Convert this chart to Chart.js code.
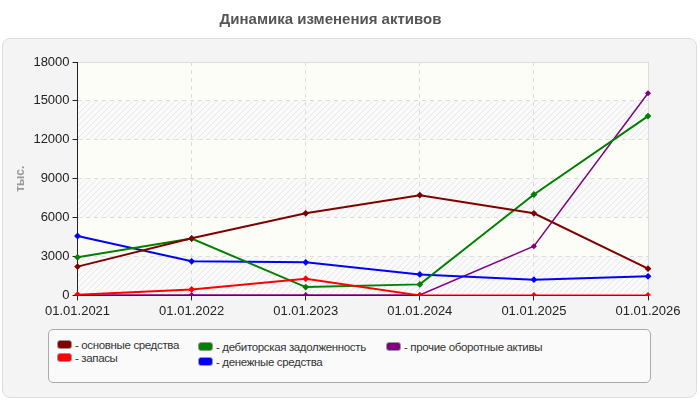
<!DOCTYPE html>
<html>
<head>
<meta charset="utf-8">
<script src="https://cdn.jsdelivr.net/npm/chart.js@4"></script>
<style>
  body { margin: 0; background: #fff; font-family: "Liberation Sans", Arial, sans-serif; }
  #wrap { position: relative; width: 700px; height: 400px; }
  #panel { position: absolute; left: 2px; top: 38px; width: 693px; height: 358px;
           background: #f4f4f4; border: 1px solid #dedede; border-radius: 8px; }
  #graf { position: absolute; left: 0; top: 0; }
  #legenda { position: absolute; left: 48px; top: 329px; width: 601px; height: 52px;
             background: #fafafa; border: 1px solid #aaa; border-radius: 5px; }
  .item { position: absolute; font-size: 11.5px; letter-spacing: -0.35px; color: #333; white-space: nowrap; line-height: 14px; }
  .item span.sw { display: inline-block; width: 13px; height: 7px; border: 1px solid #999;
                  border-radius: 3px; margin-right: 3px; vertical-align: 0px; }
</style>
</head>
<body>
<div id="wrap">
  <div id="panel"></div>
  <canvas id="graf" width="700" height="400"></canvas>
  <div id="legenda"></div>
</div>
<script>
const datas = ['01.01.2021', '01.01.2022', '01.01.2023', '01.01.2024', '01.01.2025', '01.01.2026'];

const osnovnye = [2220, 4400, 6330, 7730, 6330, 2060];
const zapasy = [50, 460, 1290, 0, 0, 0];
const debitorka = [2940, 4380, 640, 850, 7780, 13830];
const denezhnye = [4580, 2630, 2550, 1620, 1210, 1470];
const prochie = [30, 30, 30, 30, 3790, 15590];

const series = [
  { nome: 'основные средства', dados: osnovnye, cor: '#800000', w: 2 },
  { nome: 'запасы', dados: zapasy, cor: '#ff0000', w: 2 },
  { nome: 'дебиторская задолженность', dados: debitorka, cor: '#008000', w: 2 },
  { nome: 'денежные средства', dados: denezhnye, cor: '#0000ff', w: 2 },
  { nome: 'прочие оборотные активы', dados: prochie, cor: '#800080', w: 1.5 }
];

// posicoes da legenda (como no original)
const legPos = [[8, 8], [8, 21], [149, 10], [149, 25], [337, 10]];
const leg = document.getElementById('legenda');
series.forEach((s, i) => {
  const d = document.createElement('div');
  d.className = 'item';
  d.style.left = legPos[i][0] + 'px';
  d.style.top = legPos[i][1] + 'px';
  d.innerHTML = '<span class="sw" style="background:' + s.cor + '"></span>- ' + s.nome;
  leg.appendChild(d);
});

// fundo hachurado da area do grafico
const fundo = {
  id: 'fundo',
  beforeDraw(chart) {
    const { ctx, chartArea: a, scales: { y } } = chart;
    ctx.save();
    ctx.fillStyle = '#fdfdf8';
    ctx.fillRect(a.left, a.top, a.right - a.left, a.bottom - a.top);
    const p = document.createElement('canvas');
    p.width = 6; p.height = 6;
    const pc = p.getContext('2d');
    pc.fillStyle = '#fafafa';
    pc.fillRect(0, 0, 6, 6);
    pc.strokeStyle = '#e8e8e8';
    pc.lineWidth = 1;
    pc.beginPath(); pc.moveTo(0, 6); pc.lineTo(6, 0); pc.stroke();
    ctx.fillStyle = ctx.createPattern(p, 'repeat');
    for (let v = 0; v < 18000; v += 6000) {
      const y0 = y.getPixelForValue(v + 3000), y1 = y.getPixelForValue(v);
      ctx.fillRect(a.left, y0, a.right - a.left, y1 - y0);
    }
    ctx.strokeStyle = '#dddddd';
    ctx.lineWidth = 1;
    ctx.beginPath();
    ctx.moveTo(a.left, a.top + 0.5); ctx.lineTo(a.right + 0.5, a.top + 0.5); ctx.lineTo(a.right + 0.5, a.bottom);
    ctx.stroke();
    ctx.restore();
  }
};

const fonte = { family: '"Liberation Sans", Arial', size: 13 };

const ctx = document.getElementById('graf').getContext('2d');
new Chart(ctx, {
  type: 'line',
  data: {
    labels: datas,
    datasets: series.map(s => ({
      label: s.nome,
      data: s.dados,
      borderColor: s.cor,
      backgroundColor: s.cor,
      borderWidth: s.w,
      pointStyle: 'rectRot',
      pointRadius: 2,
      tension: 0
    }))
  },
  options: {
    responsive: false,
    animation: false,
    layout: { padding: { left: 13, right: 52, top: 0, bottom: 78 } },
    plugins: {
      legend: { display: false },
      tooltip: { enabled: false },
      title: {
        display: true,
        text: 'Динамика изменения активов',
        color: '#555',
        font: { family: '"Liberation Sans", Arial', size: 15, weight: 'bold' },
        padding: { top: 11, bottom: 33 }
      }
    },
    scales: {
      x: {
        offset: false,
        grid: { color: '#dddddd', tickColor: '#222', tickLength: 5 },
        border: { color: '#222', dash: [4, 4] },
        ticks: { color: '#222', font: fonte, maxRotation: 0, autoSkip: false, padding: 3 }
      },
      y: {
        min: 0, max: 18000,
        ticks: { stepSize: 3000, color: '#222', font: fonte, padding: 3, callback: v => String(v) },
        grid: { color: '#dddddd', tickColor: '#222', tickLength: 5 },
        border: { color: '#222', dash: [4, 4] },
        title: {
          display: true, text: 'тыс.', color: '#999',
          font: { family: '"Liberation Sans", Arial', size: 12, weight: 'bold' },
          padding: { top: 0, bottom: 3 }
        }
      }
    }
  },
  plugins: [fundo]
});
</script>
</body>
</html>
